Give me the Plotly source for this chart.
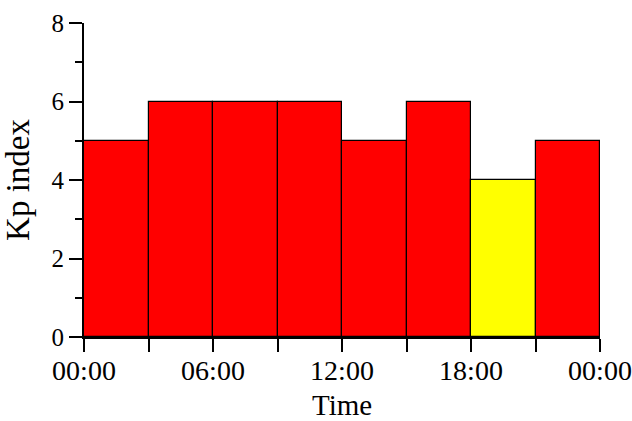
import plotly.graph_objects as go

# Data
bar_centers = ["2000-01-01 01:30", "2000-01-01 04:30", "2000-01-01 07:30", "2000-01-01 10:30",
               "2000-01-01 13:30", "2000-01-01 16:30", "2000-01-01 19:30", "2000-01-01 22:30"]
kp_values = [5, 6, 6, 6, 5, 6, 4, 5]
bar_colors = ["#FF0000", "#FF0000", "#FF0000", "#FF0000", "#FF0000", "#FF0000", "#FFFF00", "#FF0000"]
x_range = ["2000-01-01 00:00", "2000-01-02 00:00"]
y_ticks = [0, 2, 4, 6, 8]
x_title = "Time"
y_title = "Kp index"

THREE_H = 3 * 3600 * 1000
FONT = "Liberation Serif"

fig = go.Figure(go.Bar(
    x=bar_centers, y=kp_values, width=THREE_H,
    marker=dict(color=bar_colors, line=dict(color="black", width=1.2)),
))

fig.update_layout(
    width=632, height=421,
    margin=dict(l=84, r=32, t=23, b=84),
    paper_bgcolor="white", plot_bgcolor="white",
    showlegend=False,
    font=dict(family=FONT, size=25, color="black"),
    bargap=0,
)
fig.add_annotation(
    text=x_title, xref="paper", yref="paper", x=0.5, y=-0.218,
    xanchor="center", yanchor="middle", showarrow=False,
    font=dict(family=FONT, size=29, color="black"),
)
fig.update_xaxes(
    type="date", range=x_range, automargin=False, ticklabeloverflow="allow",
    dtick=2 * THREE_H, tick0="2000-01-01 00:00", tickformat="%H:%M",
    ticks="outside", ticklen=13, tickwidth=2, tickcolor="black",
    minor=dict(dtick=THREE_H, tick0="2000-01-01 00:00", ticks="outside", ticklen=13,
               tickwidth=2, tickcolor="black", showgrid=False),
    showline=True, linecolor="black", linewidth=2,
    showgrid=False, zeroline=False,
    ticklabelstandoff=-6,
    tickfont=dict(family=FONT, size=28),
)
fig.update_yaxes(
    range=[0, 8], tickvals=y_ticks, automargin=False,
    ticks="outside", ticklen=13, tickwidth=2, tickcolor="black",
    minor=dict(dtick=1, tick0=0, ticks="outside", ticklen=7, tickwidth=2,
               tickcolor="black", showgrid=False),
    showline=True, linecolor="black", linewidth=2,
    showgrid=False, zeroline=False,
    tickfont=dict(family=FONT, size=25),
    title=dict(text=y_title, font=dict(family=FONT, size=33)),
)

fig.write_html("out.html")
